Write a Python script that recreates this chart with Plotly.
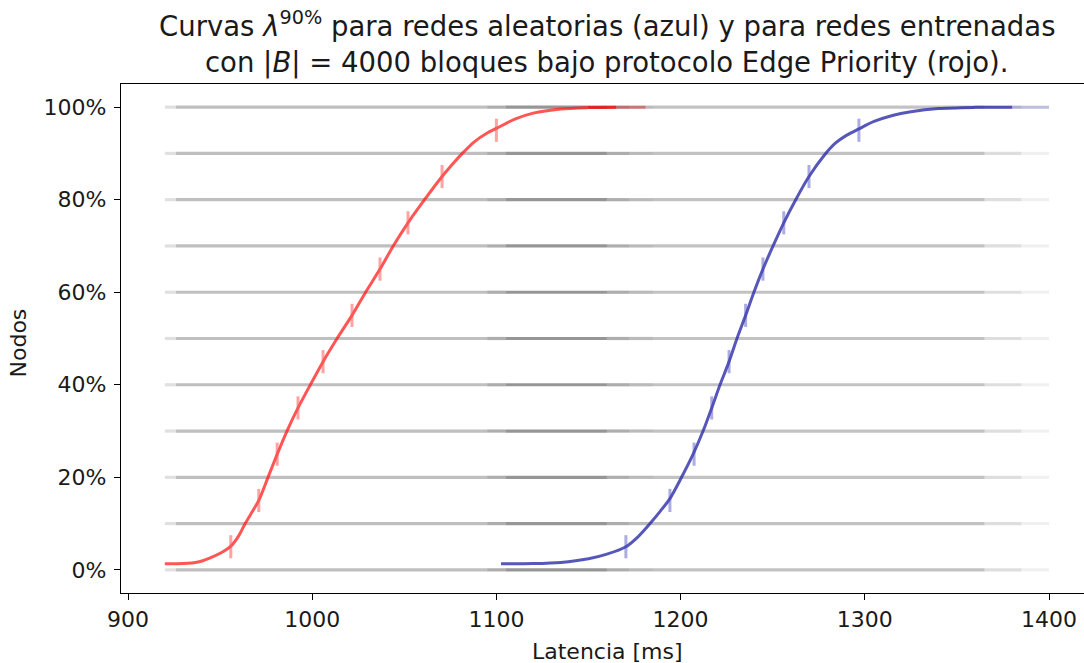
import plotly.graph_objects as go

# ---------------- data ----------------
levels = [0, 10, 20, 30, 40, 50, 60, 70, 80, 90, 100]
grid_x_start = 920
grid_x_end = 1400

red_x = [920, 930, 938, 944, 950, 956, 960, 963.6, 967.5, 971, 976, 981, 986.3, 992.3,
         999, 1005.9, 1013.5, 1021.6, 1029, 1036.8, 1044, 1052, 1061, 1070.5, 1076,
         1081.5, 1088, 1095, 1100, 1110, 1120, 1135, 1150, 1165, 1181]
red_y = [1.3, 1.35, 1.7, 2.5, 3.6, 5.2, 7.3, 10, 12.6, 15, 20, 25, 30, 35,
         40, 45, 50, 55, 60, 65, 70, 75, 80, 85, 87.6,
         90, 92.5, 94.4, 95.4, 97.4, 98.7, 99.6, 99.9, 100, 100]

blue_x = [1102.5, 1120, 1135, 1150, 1160, 1170.3, 1177, 1183.4, 1189, 1194.2, 1200.5,
          1206.8, 1212.2, 1216.9, 1221.4, 1226.3, 1230.6, 1235.3, 1239.8, 1244.7, 1250.2,
          1256, 1262.5, 1269.7, 1278, 1284, 1290, 1296.8, 1305, 1315, 1325, 1340, 1360,
          1380, 1400]
blue_y = [1.3, 1.35, 1.6, 2.4, 3.4, 5, 7.2, 10, 12.7, 15.4, 20,
          25, 30, 35, 40, 45, 50, 55, 60, 65, 70,
          75, 80, 85, 89.6, 92.2, 93.9, 95.3, 96.9, 98.2, 99.0, 99.7, 99.95,
          100, 100]

tick_levels = [5, 15, 25, 35, 45, 55, 65, 75, 85, 95]
red_tick_x = [955.8, 971, 981, 992.3, 1005.9, 1021.6, 1036.8, 1052, 1070.5, 1100]
blue_tick_x = [1170.3, 1194.2, 1207.3, 1216.9, 1226.3, 1235.3, 1244.7, 1256, 1269.7, 1296.8]
tick_half = 2.5

x_ticks = [900, 1000, 1100, 1200, 1300, 1400]
y_ticks = [0, 20, 40, 60, 80, 100]
y_tick_text = ["0%", "20%", "40%", "60%", "80%", "100%"]

# ---------------- figure ----------------
fig = go.Figure()

# gray horizontal guide lines, drawn in bands of varying opacity
bands = [(grid_x_start, 926, 0.12), (926, 1095, 0.25), (1095, 1105, 0.32),
         (1105, 1160, 0.41), (1160, 1172, 0.32), (1172, 1185, 0.27),
         (1185, 1365, 0.24), (1365, 1385, 0.13), (1385, grid_x_end, 0.06)]
for x0, x1, a in bands:
    xs, ys = [], []
    for lv in levels:
        xs += [x0, x1, None]
        ys += [lv, lv, None]
    fig.add_trace(go.Scatter(x=xs, y=ys, mode="lines", hoverinfo="skip",
                             line=dict(color=f"rgba(0,0,0,{a})", width=3.2),
                             showlegend=False))


def seg(xs, ys, lo, hi):
    px, py = [], []
    for xv, yv in zip(xs, ys):
        if lo <= xv <= hi:
            px.append(xv)
            py.append(yv)
    return px, py


# red curve
rx, ry = seg(red_x, red_y, 0, 1165)
fig.add_trace(go.Scatter(x=rx, y=ry, mode="lines", showlegend=False,
                         line=dict(color="rgba(255,20,20,0.72)", width=3, shape="spline", smoothing=0.8)))
rx, ry = seg(red_x, red_y, 1150, 2000)
fig.add_trace(go.Scatter(x=rx, y=ry, mode="lines", showlegend=False,
                         line=dict(color="rgba(220,0,0,0.35)", width=3)))

# blue curve
bx, by = seg(blue_x, blue_y, 1100, 1380)
fig.add_trace(go.Scatter(x=bx, y=by, mode="lines", showlegend=False,
                         line=dict(color="rgba(40,40,165,0.78)", width=3, shape="spline", smoothing=0.8)))
bx, by = seg(blue_x, blue_y, 1380, 2000)
fig.add_trace(go.Scatter(x=bx, y=by, mode="lines", showlegend=False,
                         line=dict(color="rgba(40,40,180,0.25)", width=3)))

# error ticks
for txs, col in [(red_tick_x, "rgba(255,90,90,0.55)"), (blue_tick_x, "rgba(70,70,190,0.45)")]:
    xs, ys = [], []
    for xv, lv in zip(txs, tick_levels):
        xs += [xv, xv, None]
        ys += [lv - tick_half, lv + tick_half, None]
    fig.add_trace(go.Scatter(x=xs, y=ys, mode="lines", showlegend=False,
                             line=dict(color=col, width=3)))

font = "DejaVu Sans"
tcol = "#1a1a1a"
fig.update_layout(
    width=1084, height=663,
    margin=dict(l=121, r=0, t=84, b=70),
    plot_bgcolor="white", paper_bgcolor="white",
    font=dict(family=font, size=22, color=tcol),
    showlegend=False,
    xaxis=dict(range=[896.2, 1419], tickvals=x_ticks, showgrid=False, zeroline=False,
               showline=True, linecolor="black", linewidth=1.3, mirror=True,
               ticks="outside", ticklen=6, tickcolor="black", tickwidth=1.3,
               tickfont=dict(family=font, size=22, color=tcol)),
    yaxis=dict(range=[-5, 105], tickvals=y_ticks, ticktext=y_tick_text, showgrid=False,
               zeroline=False, showline=True, linecolor="black", linewidth=1.3,
               ticks="outside", ticklen=6, tickcolor="black", tickwidth=1.3,
               ticklabelstandoff=3,
               tickfont=dict(family=font, size=22, color=tcol)),
    annotations=[
        dict(text="Curvas <i>λ</i><sup>90%</sup> para redes aleatorias (azul) y para redes entrenadas",
             xref="paper", yref="paper", x=0.5047, y=1.118, showarrow=False,
             xanchor="center", yanchor="middle", font=dict(family=font, size=27.5, color=tcol)),
        dict(text="con |<i>B</i>| = 4000 bloques bajo protocolo Edge Priority (rojo).",
             xref="paper", yref="paper", x=0.5047, y=1.043, showarrow=False,
             xanchor="center", yanchor="middle", font=dict(family=font, size=27.5, color=tcol)),
        dict(text="Latencia [ms]", xref="paper", yref="paper", x=0.5047, y=-0.114,
             showarrow=False, xanchor="center", yanchor="middle",
             font=dict(family=font, size=22, color=tcol)),
        dict(text="Nodos", xref="paper", yref="paper", x=-0.106, y=0.492, textangle=-90,
             showarrow=False, xanchor="center", yanchor="middle",
             font=dict(family=font, size=22, color=tcol)),
    ],
)

fig.write_html("out.html")
